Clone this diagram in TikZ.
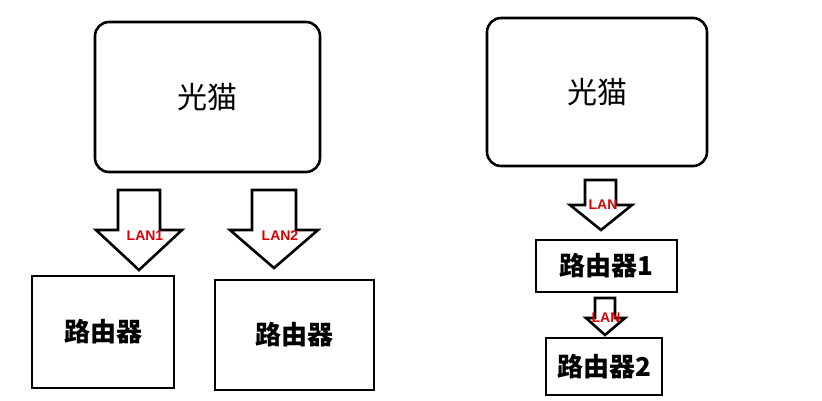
\documentclass[tikz,border=0pt]{standalone}
\usepackage{fontspec}
\newfontfamily\cjk{Noto Sans CJK SC}
\newfontfamily\lanf{Liberation Sans}
\begin{document}
\begin{tikzpicture}[x=1pt,y=-1pt,line width=2.6pt,line join=miter,
  modem/.style={draw,rounded corners=14pt,minimum width=225pt,minimum height=150pt,inner sep=0pt,font=\cjk\fontsize{30}{30}\selectfont},
  router/.style={draw,inner sep=0pt,font=\cjk\bfseries\fontsize{26}{26}\selectfont},
  lan/.style={text=red!85!black,font=\lanf\bfseries\fontsize{14}{14}\selectfont,inner sep=0pt}]
\useasboundingbox (0,0) rectangle (822,400);
% left
\node[modem] (m1) at (207.5,97) {光猫};
\node[router,minimum width=142pt,minimum height=112pt] (r1) at (103,332) {路由器};
\node[router,minimum width=159pt,minimum height=110pt] (r2) at (294.5,335) {路由器};
\draw (118,190)--(160,190)--(160,230)--(182,230)--(139,270)--(96,230)--(118,230)--cycle;
\draw (252,190)--(296,190)--(296,230)--(318,230)--(274,268)--(230,230)--(252,230)--cycle;
\node[lan] (l1) at (145,236) {LAN1};
\node[lan] (l2) at (280,236) {LAN2};
% right
\node[modem,minimum width=220pt,minimum height=148pt] (m2) at (597,92) {光猫};
\draw (585,180)--(616,180)--(616,205)--(632,205)--(601,230)--(570,205)--(585,205)--cycle;
\node[lan] (l3) at (603,205) {LAN};
\node[router,minimum width=141pt,minimum height=52pt] (r3) at (606.5,266) {路由器1};
\draw (595,298)--(615,298)--(615,318)--(625,318)--(605,335)--(586,318)--(595,318)--cycle;
\node[lan] (l4) at (606,318) {LAN};
\node[router,minimum width=116pt,minimum height=57pt] (r4) at (604,366.5) {路由器2};
\end{tikzpicture}
\end{document}
